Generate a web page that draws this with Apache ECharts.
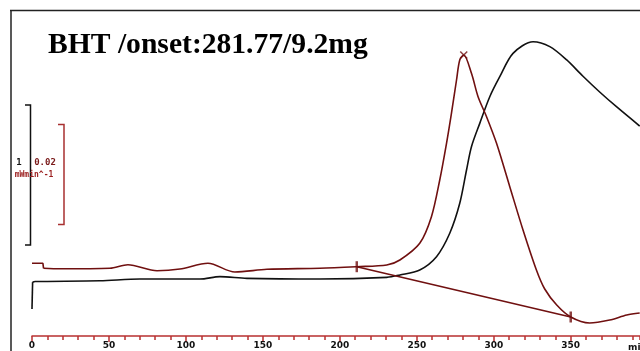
<!DOCTYPE html>
<html><head><meta charset="utf-8">
<script src="https://cdn.jsdelivr.net/npm/echarts@6/dist/echarts.min.js"></script>
<style>html,body{margin:0;padding:0;background:#fff}#c{width:640px;height:351px}</style>
</head><body><div id="c"></div>
<script>
// Time axis (min)
const xTicks = [0, 50, 100, 150, 200, 250, 300, 350];
const xUnit = 'min';
const xMax = 395;
const title = 'BHT /onset:281.77/9.2mg';

// Black curve (heat flow, mW, relative)
const blackStartT = [0, 0.4];
const blackStartV = [-0.2, -0.008];
const blackT = [0.4, 2, 44.2, 70.1, 109.1, 122.1, 139.6, 187, 230.5, 239, 251.9, 262.8, 271.4, 277.9, 282.3, 285.5, 290.9, 297.4, 303.9, 312.5, 325.5, 336.4, 347.4, 357.8, 368.8, 379.9, 394.8];
const blackV = [-0.008, -0.004, 0.002, 0.014, 0.014, 0.031, 0.019, 0.014, 0.026, 0.043, 0.079, 0.174, 0.341, 0.555, 0.793, 0.959, 1.126, 1.316, 1.459, 1.626, 1.709, 1.674, 1.579, 1.464, 1.35, 1.243, 1.107];

// Red curve (derivative, mW/min, relative)
const redStartT = [0, 7.1, 7.5];
const redStartV = [0.00094, 0.00094, -0.00006];
const redT = [7.5, 18.2, 50.6, 62.3, 81.2, 96.1, 114.3, 131.8, 152.6, 187, 211, 230.5, 239, 251.9, 259.5, 264.9, 269.3, 272.5, 275.8, 277.9, 280.5, 285.5, 289.8, 295.3, 301.8, 310.4, 319.0, 327.7, 333.1, 340.9, 350, 362.3, 375.3, 386.4, 394.8];
const redV = [-0.00006, -0.00016, -0.00006, 0.00066, -0.00054, -0.0002, 0.00094, -0.0008, -0.00026, -0.00006, 0.00026, 0.0006, 0.0016, 0.00494, 0.01026, 0.0176, 0.02494, 0.03094, 0.0376, 0.0416, 0.0426, 0.03894, 0.03426, 0.03026, 0.02494, 0.01626, 0.0076, -0.0004, -0.0042, -0.0074, -0.0098, -0.011, -0.0104, -0.0094, -0.009];

// Baseline / evaluation limits and peak
const baseT = [211, 350];
const baseV = [0.00026, -0.0098];
const peakT = [280.5];
const peakV = [0.0426];

// Scale bars
const scaleBlack = { label: '1', value: 1 };
const scaleRed = { label: '0.02', value: 0.02, unit: 'mWmin^-1' };

const chart = echarts.init(document.getElementById('c'));
const zip = (a, b) => a.map((v, i) => [v, b[i]]);
const RED = '#701010';
const AXRED = '#b83030';

// axis geometry (layout only)
const gTop = 10, gBottom = 15, H = 351 - gTop - gBottom;
const bPx = 140, rPx = 100; // pixels per scale bar
const bZeroY = 281, rZeroY = 268;
const bMin = (bZeroY - (351 - gBottom)) / bPx, bMax = (bZeroY - gTop) / bPx;
const rMin = (rZeroY - (351 - gBottom)) / rPx * scaleRed.value, rMax = (rZeroY - gTop) / rPx * scaleRed.value;

const lineS = (t, v, yi, color, smooth) => ({
  type: 'line', xAxisIndex: 0, yAxisIndex: yi, data: zip(t, v), showSymbol: false, smooth: smooth,
  lineStyle: { color: color, width: 1.6 }
});

const option = {
  animation: false,
  backgroundColor: '#fff',
  grid: { left: 32, top: gTop, right: 0, bottom: gBottom },
  xAxis: [{
    type: 'value', min: 0, max: xMax, interval: 50, position: 'bottom',
    axisLine: { onZero: false, lineStyle: { color: AXRED, width: 1.5 } },
    axisTick: { length: 6, lineStyle: { color: AXRED, width: 1.5 } },
    splitLine: { show: false },
    axisLabel: {
      margin: 5, color: '#111', fontWeight: 'bold', fontSize: 9, fontFamily: 'DejaVu Sans',
      showMaxLabel: false,
      formatter: v => (xTicks.includes(v) ? String(v) : '')
    }
  }, {
    type: 'value', min: 0, max: xMax, interval: 10, position: 'bottom',
    axisLine: { show: false, onZero: false },
    axisTick: { length: 4, lineStyle: { color: AXRED, width: 1.5 } },
    splitLine: { show: false },
    axisLabel: { show: false }
  }],
  yAxis: [
    { type: 'value', min: bMin, max: bMax, show: false },
    { type: 'value', min: rMin, max: rMax, show: false }
  ],
  graphic: [
    { type: 'line', shape: { x1: 10, y1: 10.5, x2: 640, y2: 10.5 }, style: { stroke: '#222', lineWidth: 1.5 } },
    { type: 'line', shape: { x1: 11, y1: 10, x2: 11, y2: 351 }, style: { stroke: '#222', lineWidth: 1.5 } },
    { type: 'text', left: 48, top: 30, style: { text: title, font: 'bold 29.6px "Liberation Serif"', fill: '#000' } },
    { type: 'polyline', shape: { points: [[25, 105], [30.5, 105], [30.5, 105 + scaleBlack.value * bPx], [25, 105 + scaleBlack.value * bPx]] }, style: { stroke: '#111', lineWidth: 1.5, fill: null } },
    { type: 'polyline', shape: { points: [[58, 124.5], [64, 124.5], [64, 124.5 + rPx], [58, 124.5 + rPx]] }, style: { stroke: '#a83030', lineWidth: 1.5, fill: null } },
    { type: 'text', x: 19, y: 163, style: { text: scaleBlack.label, font: 'bold 9px "DejaVu Sans Mono"', fill: '#111', align: 'center', verticalAlign: 'middle' } },
    { type: 'text', x: 45, y: 163, style: { text: scaleRed.label, font: 'bold 9px "DejaVu Sans Mono"', fill: '#7a1a1a', align: 'center', verticalAlign: 'middle' } },
    { type: 'text', x: 34, y: 174.5, style: { text: scaleRed.unit, font: 'bold 8px "DejaVu Sans Mono"', fill: '#9a1c1c', align: 'center', verticalAlign: 'middle' } },
    { type: 'text', x: 628, y: 348, style: { text: xUnit, font: 'bold 9px "DejaVu Sans"', fill: '#111', align: 'left', verticalAlign: 'middle' } }
  ],
  series: [
    lineS(blackStartT, blackStartV, 0, '#111', false),
    lineS(blackT, blackV, 0, '#111', 0.3),
    lineS(redStartT, redStartV, 1, RED, false),
    lineS(redT, redV, 1, RED, 0.3),
    lineS(baseT, baseV, 1, RED, false),
    { type: 'scatter', yAxisIndex: 1, data: zip(baseT, baseV), symbol: 'rect', symbolSize: [2.5, 11], itemStyle: { color: RED } },
    { type: 'scatter', yAxisIndex: 1, data: zip(peakT, peakV), symbol: 'path://M0,0L10,10M10,0L0,10', symbolSize: 7, itemStyle: { color: 'transparent', borderColor: RED, borderWidth: 1.5 } }
  ]
};
chart.setOption(option);
</script></body></html>
